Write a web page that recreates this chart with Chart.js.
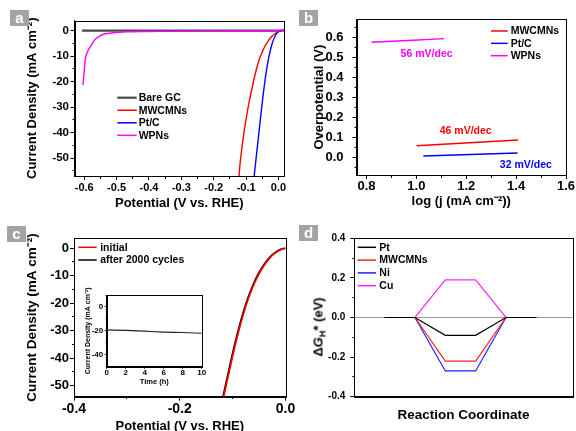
<!DOCTYPE html>
<html><head><meta charset="utf-8">
<script src="https://cdn.jsdelivr.net/npm/chart.js@4.4.1/dist/chart.umd.min.js"></script>
<style>
html,body{margin:0;padding:0;background:#fff;overflow:hidden;}
#wrap{position:relative;width:576px;height:431px;overflow:hidden;background:#fff;}
canvas{position:absolute;}
.tag{position:absolute;width:19px;height:16px;background:#a3a3a3;color:#fff;font:bold 15px "Liberation Sans",Arial,sans-serif;text-align:center;line-height:15px;}
.ytitle{position:absolute;white-space:nowrap;font:bold 13px "Liberation Sans",Arial,sans-serif;color:#000;transform:translate(-50%,-50%) rotate(-90deg);}
.ytitle i{font-style:italic;}
.ytitle sub{font-size:9px;vertical-align:-3px;}
</style></head><body>
<div id="wrap">
<canvas id="ca" width="288" height="215" style="left:0;top:0"></canvas>
<canvas id="cb" width="288" height="215" style="left:288px;top:0"></canvas>
<canvas id="cc" width="300" height="230" style="left:0;top:215px"></canvas>
<canvas id="cd" width="288" height="216" style="left:288px;top:215px"></canvas>
<canvas id="ci" width="130" height="105" style="left:80px;top:285px"></canvas>
<div class="tag" style="left:10px;top:10px">a</div>
<div class="tag" style="left:299px;top:10px">b</div>
<div class="tag" style="left:7px;top:226px">c</div>
<div class="tag" style="left:299px;top:225px">d</div>
<div class="ytitle" style="left:319px;top:327px">Δ<i>G</i><sub>H</sub>* (eV)</div>
</div>
<script>
// ---------- Panel a: polarization curves ----------
const aBareV = [-0.607, -0.5, -0.4, -0.3, -0.2, -0.1, 0.0, 0.017];
const aBareJ = [0, 0, 0, 0, 0, 0, 0.05, 0.1];
const aMwV = [-0.122, -0.120, -0.110, -0.100, -0.090, -0.080, -0.070, -0.060, -0.050, -0.040, -0.030, -0.020, -0.010, 0.0, 0.017];
const aMwJ = [-57.5, -54.0, -43.0, -34.5, -27.5, -21.5, -16.0, -11.5, -8.3, -5.6, -3.7, -2.2, -1.1, -0.3, 0.4];
const aPtV = [-0.076, -0.070, -0.060, -0.050, -0.040, -0.030, -0.020, -0.010, 0.0, 0.017];
const aPtJ = [-58.0, -51.0, -39.5, -28.0, -18.0, -10.5, -5.2, -2.0, -0.4, 0.1];
const aWpV = [-0.604, -0.600, -0.597, -0.590, -0.581, -0.575, -0.566, -0.555, -0.540, -0.525, -0.510, -0.490, -0.468, -0.4, -0.3, -0.2, -0.1, 0.0, 0.017];
const aWpJ = [-21.3, -16.0, -11.5, -8.3, -6.3, -5.0, -3.4, -2.3, -1.4, -1.05, -0.8, -0.6, -0.4, -0.3, -0.2, -0.15, -0.1, 0.0, 0.3];

// ---------- Panel b: Tafel lines ----------
const bMwX = [1.001, 1.408], bMwY = [0.0565, 0.085];
const bPtX = [1.028, 1.406], bPtY = [0.005, 0.020];
const bWpX = [0.820, 1.111], bWpY = [0.575, 0.593];
const bNoteText = ['56 mV/dec', '46 mV/dec', '32 mV/dec'];
const bNoteX = [1.041, 1.198, 1.439];
const bNoteY = [0.5165, 0.128, -0.042];

// ---------- Panel c: stability ----------
const cV = [-0.118, -0.110, -0.100, -0.090, -0.080, -0.070, -0.060, -0.050, -0.040, -0.030, -0.020, -0.010, 0.0];
const cInitJ = [-55.0, -48.0, -39.3, -31.3, -24.2, -18.2, -13.3, -9.3, -6.1, -3.6, -1.8, -0.6, 0.0];
const cAfterV = [-0.1192, -0.1112, -0.1012, -0.0912, -0.0812, -0.0712, -0.0612, -0.0512, -0.0412, -0.0312, -0.0212, -0.0110, 0.0];
const cAfterJ = [-55.0, -48.0, -39.3, -31.3, -24.2, -18.2, -13.3, -9.3, -6.1, -3.6, -1.8, -0.6, 0.0];
const insetT = [0, 2, 4, 6, 8, 10];
const insetJ = [-19.2, -19.6, -20.3, -21.0, -21.4, -22.0];

// ---------- Panel d: free energy diagram ----------
const dStep = [1, 2, 3, 4, 5, 6];
const dPt = [0, 0, -0.09, -0.09, 0, 0];
const dMw = [0, 0, -0.22, -0.22, 0, 0];
const dNi = [0, 0, -0.27, -0.27, 0, 0];
const dCu = [0, 0, 0.19, 0.19, 0, 0];

const FF = '"Liberation Sans", Arial, sans-serif';
Chart.defaults.font.family = FF;
Chart.defaults.font.weight = 'bold';
Chart.defaults.color = '#000';

function pts(xs, ys) { return xs.map((x, i) => ({x: x, y: ys[i]})); }
function isMajor(v, m) { const r = v / m; return Math.abs(r - Math.round(r)) < 1e-6; }
function fix1(v) { return (Math.abs(v) < 1e-9 ? 0 : v).toFixed(1); }
function int0(v) { return String(Math.round(v)); }

function axis(o) {
  return {
    type: 'linear', min: o.min, max: o.max, position: o.pos,
    afterFit: s => {
      if (s.isHorizontal()) { s.height = o.size; s.paddingLeft = 0; s.paddingRight = 0; }
      else { s.width = o.size; s.paddingTop = 0; s.paddingBottom = 0; }
    },
    border: {display: true, color: '#000', width: 1},
    grid: {
      drawOnChartArea: !!o.zeroLine,
      color: c => (o.zeroLine && c.tick && Math.abs(c.tick.value) < 1e-9) ? '#9a9a9a' : 'rgba(0,0,0,0)',
      lineWidth: 1,
      drawTicks: o.ticks !== false,
      tickLength: o.tl || 4, tickColor: '#000', tickWidth: 1,
      tickBorderDash: c => (c.tick && o.major && !isMajor(c.tick.value, o.major)) ? o.minorDash : []
    },
    ticks: {
      display: o.ticks !== false, stepSize: o.step, includeBounds: false, autoSkip: false,
      maxRotation: 0, minRotation: 0, padding: o.pad || 0,
      font: {size: o.fs || 12, weight: 'bold', family: FF}, color: '#000',
      callback: v => (o.major && isMajor(v, o.major)) ? o.fmt(v) : ''
    },
    title: {display: !!o.title, text: o.title || '', color: '#000',
      font: {size: o.tfs || 13, weight: 'bold', family: FF}, padding: o.tpad || 0}
  };
}

const framePlugin = {
  id: 'frame',
  beforeDatasetsDraw(chart) {
    const {ctx, chartArea: a} = chart;
    ctx.save(); ctx.strokeStyle = '#000'; ctx.lineWidth = 1;
    ctx.strokeRect(Math.round(a.left) + 0.5, Math.round(a.top) + 0.5,
      Math.round(a.right) - Math.round(a.left), Math.round(a.bottom) - Math.round(a.top));
    ctx.restore();
  }
};
const legendPlugin = {
  id: 'manualLegend',
  afterDatasetsDraw(chart, args, opts) {
    if (!opts || opts.x === undefined) return;
    const ctx = chart.ctx; ctx.save();
    ctx.font = 'bold ' + opts.size + 'px ' + FF; ctx.textBaseline = 'middle'; ctx.textAlign = 'left';
    chart.data.datasets.forEach((ds, i) => {
      const y = opts.y + i * opts.rowH;
      ctx.strokeStyle = ds.borderColor; ctx.lineWidth = ds.legendWidth || 1.5;
      ctx.beginPath(); ctx.moveTo(opts.x, y); ctx.lineTo(opts.x + opts.len, y); ctx.stroke();
      ctx.fillStyle = '#000'; ctx.fillText(ds.label, opts.x + opts.len + opts.gap, y + 0.5);
    });
    ctx.restore();
  }
};
const notePlugin = {
  id: 'notes',
  afterDatasetsDraw(chart, args, opts) {
    if (!opts || !opts.texts) return;
    const ctx = chart.ctx, xs = chart.scales.x, ys = chart.scales.y;
    ctx.save(); ctx.font = 'bold ' + opts.size + 'px ' + FF; ctx.textAlign = 'center'; ctx.textBaseline = 'middle';
    for (let i = 0; i < opts.texts.length; i++) {
      ctx.fillStyle = opts.colors[i];
      ctx.fillText(opts.texts[i], xs.getPixelForValue(opts.xs[i]), ys.getPixelForValue(opts.ys[i]));
    }
    ctx.restore();
  }
};

function base(padding, x, y, plugins) {
  return {
    responsive: false, animation: false, devicePixelRatio: 1, events: [],
    layout: {padding: padding},
    elements: {point: {radius: 0}, line: {cubicInterpolationMode: 'monotone'}},
    scales: {x: x, y: y},
    plugins: Object.assign({legend: {display: false}, tooltip: {enabled: false}}, plugins || {})
  };
}
const PL = [framePlugin, legendPlugin, notePlugin];

// Panel a
new Chart(document.getElementById('ca'), {
  type: 'line',
  data: {datasets: [
    {label: 'Bare GC', data: pts(aBareV, aBareJ), borderColor: '#4a4a4a', borderWidth: 2.2, legendWidth: 2.2, order: 3},
    {label: 'MWCMNs', data: pts(aMwV, aMwJ), borderColor: '#ff0000', borderWidth: 1.4, order: 2},
    {label: 'Pt/C', data: pts(aPtV, aPtJ), borderColor: '#0000ff', borderWidth: 1.4, order: 1},
    {label: 'WPNs', data: pts(aWpV, aWpJ), borderColor: '#ff00ff', borderWidth: 1.4, order: 0}
  ]},
  options: base({left: 0, top: 20.5, right: 4, bottom: 0},
    axis({pos: 'bottom', min: -0.63, max: 0.017, step: 0.05, major: 0.1, fmt: fix1, fs: 11, pad: 1, size: 39,
      title: 'Potential (V vs. RHE)', tfs: 13, tpad: {top: 0, bottom: 4.2}, minorDash: [2, 20]}),
    axis({pos: 'left', min: -57, max: 4, step: 5, major: 10, fmt: int0, fs: 11.5, pad: 1.5, size: 74.5,
      title: 'Current Density (mA cm⁻²)', tfs: 13, tpad: {top: 24.2, bottom: 0}, minorDash: [0, 2, 2, 20]}),
    {manualLegend: {x: 117.3, y: 97.7, len: 19.4, gap: 2, rowH: 12.55, size: 10.5}}),
  plugins: PL
});

// Panel b
new Chart(document.getElementById('cb'), {
  type: 'line',
  data: {datasets: [
    {label: 'MWCMNs', data: pts(bMwX, bMwY), borderColor: '#ff0000', borderWidth: 1.4},
    {label: 'Pt/C', data: pts(bPtX, bPtY), borderColor: '#0000ff', borderWidth: 1.4},
    {label: 'WPNs', data: pts(bWpX, bWpY), borderColor: '#ff00ff', borderWidth: 1.4}
  ]},
  options: base({left: 0, top: 19.3, right: 10, bottom: 0},
    axis({pos: 'bottom', min: 0.76, max: 1.6, step: 0.1, major: 0.2, fmt: fix1, fs: 13, pad: 0, size: 40,
      title: 'log (j (mA cm⁻²))', tfs: 13, tpad: {top: 0, bottom: 5.5}, minorDash: [2, 20]}),
    axis({pos: 'left', min: -0.09, max: 0.69, step: 0.05, major: 0.1, fmt: fix1, fs: 13, pad: 9, size: 68.5,
      title: 'Overpotential (V)', tfs: 13, tpad: {top: 23.5, bottom: 0}, minorDash: [0, 2, 2, 20]}),
    {manualLegend: {x: 203, y: 31, len: 16.7, gap: 3, rowH: 12.35, size: 10.5},
     notes: {texts: bNoteText, xs: bNoteX, ys: bNoteY, colors: ['#ff00ff', '#ff0000', '#0000ff'], size: 10.5}}),
  plugins: PL
});

// Panel c
new Chart(document.getElementById('cc'), {
  type: 'line',
  data: {datasets: [
    {label: 'initial', data: pts(cV, cInitJ), borderColor: '#ff0000', borderWidth: 1.6},
    {label: 'after 2000 cycles', data: pts(cAfterV, cAfterJ), borderColor: '#000000', borderWidth: 1.8}
  ]},
  options: base({left: 0, top: 23.3, right: 14.5, bottom: 0},
    axis({pos: 'bottom', min: -0.4, max: 0.0, step: 0.1, major: 0.2, fmt: fix1, fs: 14, pad: 0, size: 48.3,
      title: 'Potential (V vs. RHE)', tfs: 13, tpad: {top: 0, bottom: 10.5}, minorDash: [2, 20]}),
    axis({pos: 'left', min: -54, max: 3.6, step: 5, major: 10, fmt: int0, fs: 13, pad: 1, size: 74,
      title: 'Current Density (mA cm⁻²)', tfs: 13.5, tpad: {top: 23.9, bottom: 0}, minorDash: [0, 2, 2, 20]}),
    {manualLegend: {x: 78.3, y: 32.3, len: 18.4, gap: 3.5, rowH: 12.7, size: 10.5}}),
  plugins: PL
});

// Inset of panel c
new Chart(document.getElementById('ci'), {
  type: 'line',
  data: {datasets: [
    {label: 'i-t', data: pts(insetT, insetJ), borderColor: '#222', borderWidth: 1.2}
  ]},
  options: base({left: 0, top: 10, right: 8.3, bottom: 0},
    axis({pos: 'bottom', min: 0, max: 10, step: 1, major: 2, fmt: int0, fs: 8, pad: -1, tl: 2, size: 23.3,
      title: 'Time (h)', tfs: 7.5, tpad: {top: 0, bottom: 3.8}, minorDash: [1, 20]}),
    axis({pos: 'left', min: -50, max: 10, step: 10, major: 20, fmt: int0, fs: 8, pad: 1.5, tl: 2, size: 26.7,
      title: 'Current Density (mA cm⁻²)', tfs: 7, tpad: {top: 4.1, bottom: 0}, minorDash: [0, 1, 1, 20]})),
  plugins: [framePlugin]
});

// Panel d
new Chart(document.getElementById('cd'), {
  type: 'line',
  data: {datasets: [
    {label: 'Pt', data: pts(dStep, dPt), borderColor: '#000000', borderWidth: 1.2, cubicInterpolationMode: 'default', tension: 0},
    {label: 'MWCMNs', data: pts(dStep, dMw), borderColor: '#ff2020', borderWidth: 1.2, cubicInterpolationMode: 'default', tension: 0},
    {label: 'Ni', data: pts(dStep, dNi), borderColor: '#2020ff', borderWidth: 1.2, cubicInterpolationMode: 'default', tension: 0},
    {label: 'Cu', data: pts(dStep, dCu), borderColor: '#ff20ff', borderWidth: 1.2, cubicInterpolationMode: 'default', tension: 0}
  ]},
  options: base({left: 0, top: 23.3, right: 3.3, bottom: 0},
    axis({pos: 'bottom', min: 0, max: 7.2, ticks: false, size: 34.3,
      title: 'Reaction Coordinate', tfs: 13.5, tpad: {top: 0, bottom: 7.9}}),
    axis({pos: 'left', min: -0.4, max: 0.4, step: 0.1, major: 0.2, fmt: fix1, fs: 10, pad: 5, size: 66.3,
      zeroLine: true, minorDash: [0, 2, 2, 20]}),
    {manualLegend: {x: 69.7, y: 32.3, len: 18.3, gap: 3.3, rowH: 12.8, size: 10.5}}),
  plugins: PL
});
</script>
</body></html>
